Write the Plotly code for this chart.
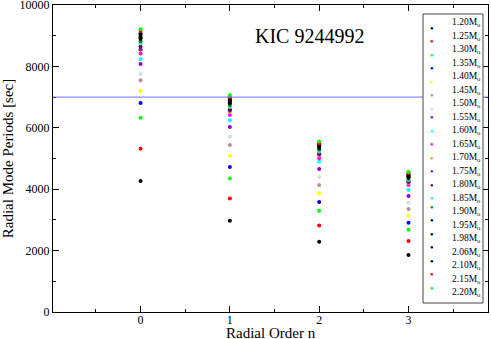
import plotly.graph_objects as go

# radial order
orders = [0, 1, 2, 3]

masses = ['1.20', '1.25', '1.30', '1.35', '1.40', '1.45', '1.50', '1.55', '1.60', '1.65',
          '1.70', '1.75', '1.80', '1.85', '1.90', '1.95', '1.98', '2.06', '2.10', '2.15', '2.20']

# periods [sec] for n = 0, 1, 2, 3 per model mass
periods = {
    '1.20': [4270, 2975, 2290, 1860],
    '1.25': [5320, 3700, 2820, 2310],
    '1.30': [6330, 4350, 3300, 2680],
    '1.35': [6810, 4720, 3585, 2910],
    '1.40': [7210, 5090, 3865, 3135],
    '1.45': [7545, 5440, 4135, 3355],
    '1.50': [7750, 5710, 4395, 3560],
    '1.55': [8080, 6025, 4655, 3780],
    '1.60': [8240, 6245, 4895, 3975],
    '1.65': [8420, 6415, 5010, 4135],
    '1.70': [8520, 6520, 5100, 4200],
    '1.75': [8560, 6560, 5130, 4230],
    '1.80': [8650, 6600, 5170, 4260],
    '1.85': [8750, 6680, 5230, 4300],
    '1.90': [8820, 6740, 5290, 4340],
    '1.95': [8900, 6800, 5340, 4380],
    '1.98': [8950, 6850, 5380, 4420],
    '2.06': [9020, 6900, 5420, 4450],
    '2.10': [9080, 6950, 5460, 4490],
    '2.15': [9150, 7000, 5500, 4530],
    '2.20': [9210, 7060, 5550, 4570],
}

obs_period = 7000

# xmgrace colour cycle
colors = ['#000000', '#ff0000', '#00ff00', '#0000ff', '#ffff00', '#bc8f8f', '#dcdcdc',
          '#9400d3', '#00ffff', '#ff00ff', '#ffa500', '#7221bc', '#670748', '#40e0d0',
          '#008b00', '#000000', '#000000', '#000000', '#000000', '#ff0000', '#00ff00']

FONT = 'Liberation Serif'

fig = go.Figure()

for m, c in zip(masses, colors):
    fig.add_trace(go.Scatter(
        x=orders,
        y=periods[m],
        mode='markers',
        marker=dict(size=4, color=c, symbol='circle'),
        name=m + 'M<sub>o</sub>'
    ))

fig.add_shape(type='line', xref='paper', yref='y', x0=0, x1=1, y0=obs_period, y1=obs_period,
              line=dict(color='rgb(110,110,255)', width=1))

fig.add_annotation(text='KIC 9244992', xref='paper', yref='paper', x=0.59, y=0.94,
                   showarrow=False, font=dict(family=FONT, size=20, color='black'))

# x title as an annotation so it sits a bit lower than plotly puts it
fig.add_annotation(text='Radial Order n', xref='paper', yref='paper', x=0.5, y=-0.069,
                   yanchor='middle', showarrow=False, font=dict(family=FONT, size=15, color='black'))

# legend box drawn by hand (plotly's legend rows are too tall for 21 entries here)
box_x0, box_x1, box_y0, box_y1 = 0.8506, 0.9885, 0.0293, 0.9707
fig.add_shape(type='rect', xref='paper', yref='paper', x0=box_x0, x1=box_x1, y0=box_y0, y1=box_y1,
              line=dict(color='#444444', width=1), fillcolor='white', layer='above')
row_top, row_step = 0.9414, 0.04397
for i, (m, c) in enumerate(zip(masses, colors)):
    yy = row_top - i * row_step
    fig.add_annotation(text='●', xref='paper', yref='paper', x=0.8805, y=yy,
                       showarrow=False, font=dict(size=6, color=c))
    fig.add_annotation(text=m + 'M<sub>o</sub>', xref='paper', yref='paper', x=0.912, y=yy,
                       xanchor='left', yanchor='middle', showarrow=False,
                       font=dict(family=FONT, size=9.5, color='black'))

fig.update_layout(
    width=491,
    height=339,
    margin=dict(l=53, r=3, t=5, b=27),
    paper_bgcolor='white',
    plot_bgcolor='white',
    font=dict(family=FONT, color='black', size=12),
    showlegend=False,
    xaxis=dict(
        range=[-0.98, 3.89],
        tick0=0, dtick=1,
        ticks='inside', ticklen=6, tickcolor='black',
        minor=dict(dtick=0.5, ticks='inside', ticklen=3, tickcolor='black'),
        showline=True, linecolor='black', linewidth=1, mirror='ticks',
        showgrid=False, zeroline=False, automargin=False,
        ticklabelstandoff=-3,
        tickfont=dict(family=FONT, size=12),
    ),
    yaxis=dict(
        range=[0, 10000],
        tick0=0, dtick=2000, tickformat='d',
        ticks='inside', ticklen=6, tickcolor='black',
        minor=dict(dtick=1000, ticks='inside', ticklen=3, tickcolor='black'),
        showline=True, linecolor='black', linewidth=1, mirror='ticks',
        showgrid=False, zeroline=False, automargin=False,
        ticklabeloverflow='allow',
        title=dict(text='Radial Mode Periods [sec]', font=dict(family=FONT, size=15), standoff=4),
        tickfont=dict(family=FONT, size=12),
    ),
)

# drop the default 8px body margin so the figure sits at the window's corner
fig.write_html('out.html', config={'displayModeBar': False},
               post_script="document.body.style.margin='0';")
